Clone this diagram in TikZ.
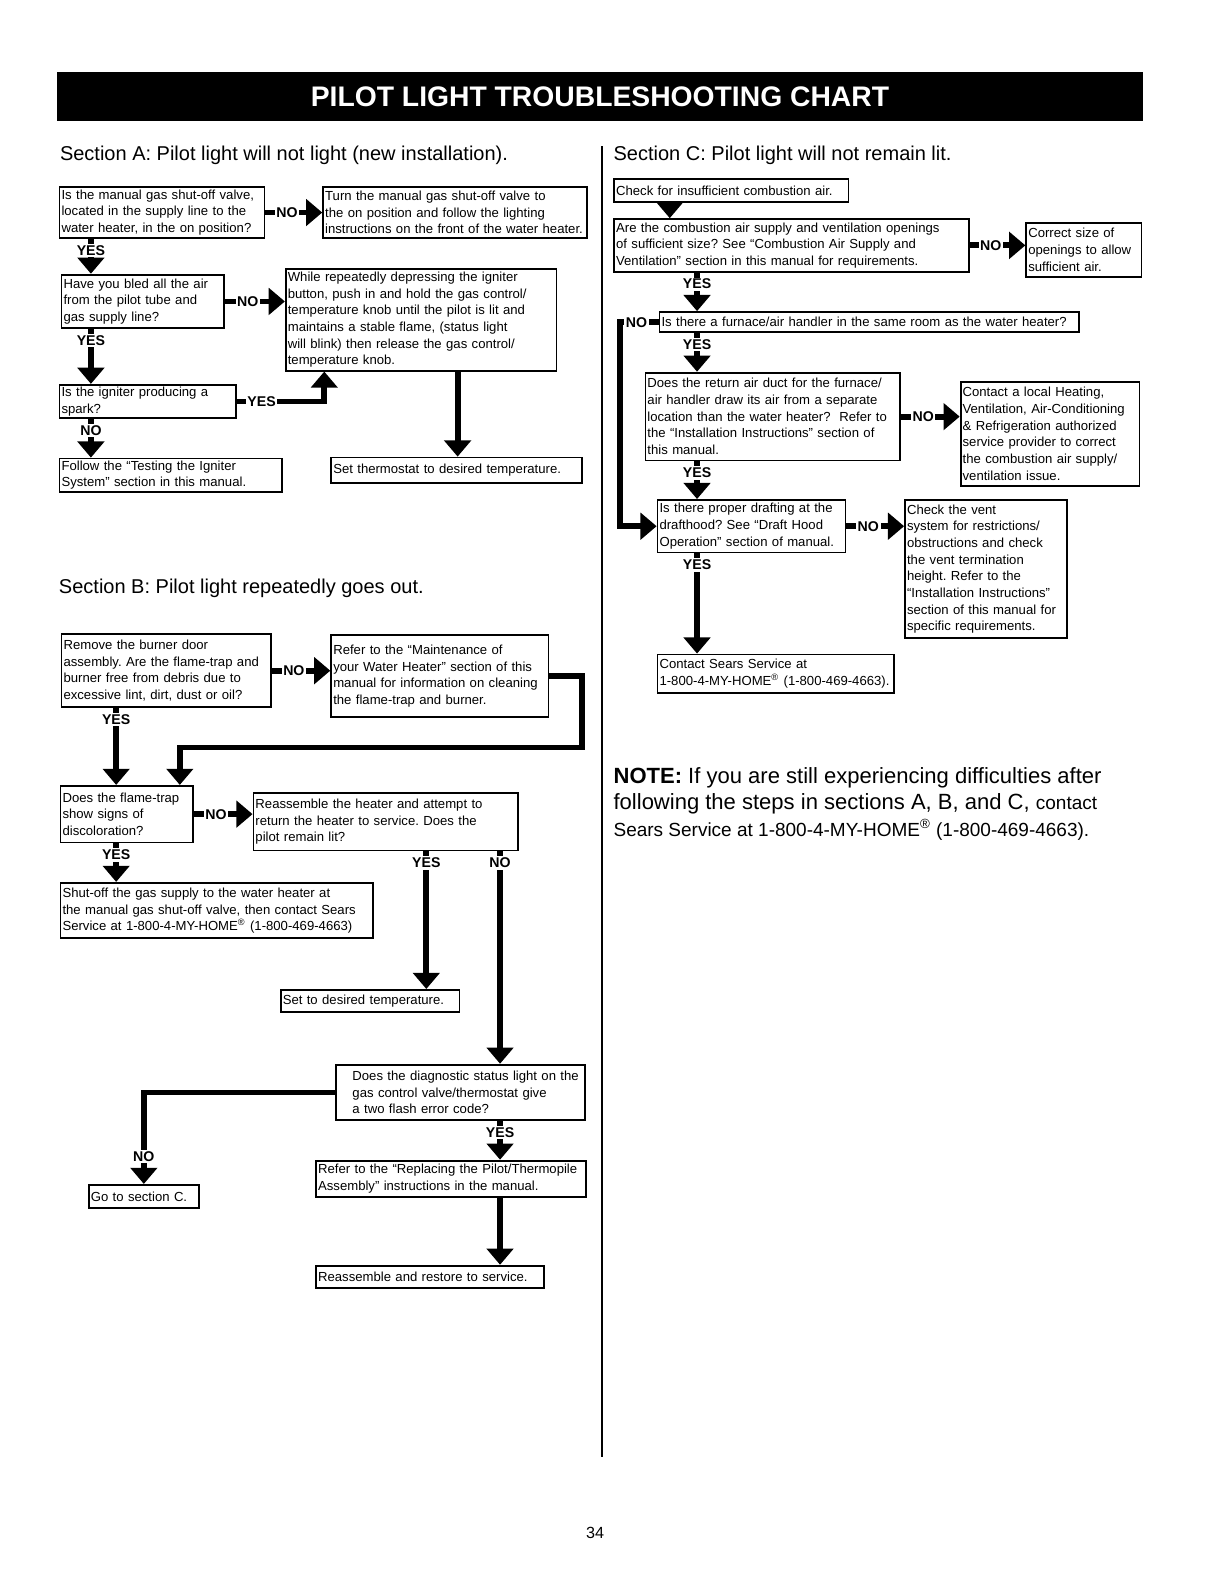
\documentclass[tikz,border=0pt]{standalone}
\usepackage{fontspec}
\setmainfont{Liberation Sans}
\usetikzlibrary{arrows.meta}

\newcommand{\boxfont}{\fontsize{6.5}{8.25}\selectfont}
\newcommand{\lblfont}{\fontsize{7}{8}\selectfont\bfseries}
\newcommand{\regd}{\textsuperscript{\textregistered}}

\begin{document}
\frenchspacing
\begin{tikzpicture}[x=0.5pt, y=-0.5pt,
  qbox/.style={rectangle, draw, line width=0.9pt, anchor=north west, align=left,
               inner xsep=1pt, inner ysep=1pt, font=\boxfont},
  arr/.style={line width=2.9pt, -{Triangle[width=13pt,length=8pt]}},
  lbl/.style={fill=white, inner sep=0.8pt, font=\lblfont},
  sec/.style={anchor=west, inner sep=0pt, font=\fontsize{9.9}{12}\selectfont}
]
\fill[white] (0,0) rectangle (1212,1568);
\useasboundingbox (0,0) rectangle (1212,1568);

%% Title bar
\node[fill=black, text=white, anchor=north west, minimum width=537.5pt, minimum height=24pt,
      font=\fontsize{14}{16}\selectfont\bfseries] (title) at (56,71) {PILOT LIGHT TROUBLESHOOTING CHART};
\draw[line width=0.6pt] (596,145) -- (596,1442);

%% Column positions of the down arrows
\coordinate (colA) at (90,0);
\coordinate (colAy) at (321,0);
\coordinate (colA2) at (453,0);
\coordinate (colB) at (115,0);
\coordinate (colB2) at (178,0);
\coordinate (colB3) at (422,0);
\coordinate (colB4) at (495,0);
\coordinate (bloop) at (576,740);
\coordinate (colC1) at (663,0);
\coordinate (colC) at (690,0);
\coordinate (cbus) at (614,0);

%% Section A
\node[sec] (secA) at (59,154) {Section A: Pilot light will not light (new installation).};
\node[qbox, text width=99.5pt, minimum height=25.5pt] (a1) at (58,184)
  {Is the manual gas shut-off valve,\\located in the supply line to the\\water heater, in the on position?};
\node[qbox, text width=128.5pt, minimum height=25.5pt] (a2) at (319,184)
  {Turn the manual gas shut-off valve to\\the on position and follow the lighting\\instructions on the front of the water heater.};
\node[qbox, text width=78.5pt, minimum height=26.5pt] (a3) at (60,271)
  {Have you bled all the air\\from the pilot tube and\\gas supply line?};
\node[qbox, text width=132pt, minimum height=50.5pt] (a4) at (282,265)
  {While repeatedly depressing the igniter\\button, push in and hold the gas control/\\temperature knob until the pilot is lit and\\maintains a stable flame, (status light\\will blink) then release the gas control/\\temperature knob.};
\node[qbox, text width=85.5pt, minimum height=16.5pt] (a5) at (58,380)
  {Is the igniter producing a\\spark?};
\node[qbox, text width=108pt, minimum height=16.5pt] (a6) at (58,453)
  {Follow the ``Testing the Igniter\\System'' section in this manual.};
\node[qbox, text width=122pt, minimum height=12.5pt] (a7) at (327,452)
  {Set thermostat to desired temperature.};

\draw[arr] (a1.east) -- node[lbl, pos=0.38]{NO} (a1.east -| a2.west);
\draw[arr] (a1.south -| colA) -- node[lbl, below=1pt, pos=0]{YES} (a3.north -| colA);
\draw[arr] (a3.east) -- node[lbl, pos=0.38]{NO} (a3.east -| a4.west);
\draw[arr] (a3.south -| colA) -- node[lbl, below=1pt, pos=0]{YES} (a5.north -| colA);
\draw[arr] (a5.east) -| node[lbl, pos=0.14]{YES} (a4.south -| colAy);
\draw[arr] (a5.south -| colA) -- node[lbl, below=1pt, pos=0]{NO} (a6.north -| colA);
\draw[arr] (a4.south -| colA2) -- (a7.north -| colA2);

%% Section B
\node[sec] (secB) at (58,582) {Section B: Pilot light repeatedly goes out.};
\node[qbox, text width=101.5pt, minimum height=36pt] (b1) at (60,627)
  {Remove the burner door\\assembly. Are the flame-trap and\\burner free from debris due to\\excessive lint, dirt, dust or oil?};
\node[qbox, text width=105.5pt, minimum height=40.5pt] (b2) at (327,628)
  {Refer to the ``Maintenance of\\your Water Heater'' section of this\\manual for information on cleaning\\the flame-trap and burner.};
\node[qbox, text width=63.5pt, minimum height=28pt] (b3) at (59,777)
  {Does the flame-trap\\show signs of\\discoloration?};
\node[qbox, text width=129pt, minimum height=28.5pt] (b4) at (250,784)
  {Reassemble the heater and attempt to\\return the heater to service. Does the\\pilot remain lit?};
\node[qbox, text width=152.5pt, minimum height=27.5pt] (b5) at (59,873)
  {Shut-off the gas supply to the water heater at\\the manual gas shut-off valve, then contact Sears\\Service at 1-800-4-MY-HOME\regd{} (1-800-469-4663)};
\node[qbox, text width=86.5pt, minimum height=11pt] (b6) at (277,979)
  {Set to desired temperature.};
\node[qbox, text width=121pt, minimum height=27.5pt] (b7) at (332,1053)
  {\hspace*{7pt}Does the diagnostic status light on the\\\hspace*{7pt}gas control valve/thermostat give\\\hspace*{7pt}a two flash error code?};
\node[qbox, text width=52.5pt, minimum height=11.5pt] (b8) at (87,1172)
  {Go to section C.};
\node[qbox, text width=131.5pt, minimum height=18pt] (b9) at (312,1148)
  {Refer to the ``Replacing the Pilot/Thermopile\\Assembly'' instructions in the manual.};
\node[qbox, text width=111pt, minimum height=11pt] (b10) at (312,1252)
  {Reassemble and restore to service.};

\draw[arr] (b1.east) -- node[lbl, pos=0.38]{NO} (b1.east -| b2.west);
\draw[arr] (b2.east) -| (bloop) -| (b3.north -| colB2);
\draw[arr] (b1.south -| colB) -- node[lbl, below=1pt, pos=0]{YES} (b3.north -| colB);
\draw[arr] (b3.east) -- node[lbl, pos=0.38]{NO} (b3.east -| b4.west);
\draw[arr] (b3.south -| colB) -- node[lbl, below=1pt, pos=0]{YES} (b5.north -| colB);
\draw[arr] (b4.south -| colB3) -- node[lbl, below=1pt, pos=0]{YES} (b6.north -| colB3);
\draw[arr] (b4.south -| colB4) -- node[lbl, below=1pt, pos=0]{NO} (b7.north -| colB4);
\draw[arr] (b7.west) -| node[lbl, pos=0.85]{NO} (b8.north);
\draw[arr] (b7.south -| colB4) -- node[lbl, below=1pt, pos=0]{YES} (b9.north -| colB4);
\draw[arr] (b9.south -| colB4) -- (b10.north -| colB4);

%% Section C
\node[sec] (secC) at (607,154) {Section C: Pilot light will not remain lit.};
\node[qbox, text width=114pt, minimum height=11.5pt] (c1) at (607,176)
  {Check for insufficient combustion air.};
\node[qbox, text width=173.5pt, minimum height=26pt] (c2) at (607,216)
  {Are the combustion air supply and ventilation openings\\of sufficient size? See ``Combustion Air Supply and\\Ventilation'' section in this manual for requirements.};
\node[qbox, text width=55pt, minimum height=26.5pt] (c3) at (1015,220)
  {Correct size of\\openings to allow\\sufficient air.};
\node[qbox, text width=205.5pt, minimum height=10pt] (c4) at (652,308)
  {Is there a furnace/air handler in the same room as the water heater?};
\node[qbox, text width=124pt, minimum height=43.5pt] (c5) at (638,368)
  {Does the return air duct for the furnace/\\air handler draw its air from a separate\\location than the water heater?\ \ Refer to\\the ``Installation Instructions'' section of\\this manual.};
\node[qbox, text width=86.5pt, minimum height=51.5pt] (c7) at (950,377)
  {Contact a local Heating,\\Ventilation, Air-Conditioning\\\& Refrigeration authorized\\service provider to correct\\the combustion air supply/\\ventilation issue.};
\node[qbox, text width=91pt, minimum height=26pt] (c6) at (650,494)
  {Is there proper drafting at the\\drafthood? See ``Draft Hood\\Operation'' section of manual.};
\node[qbox, text width=78pt, minimum height=68.5pt] (c8) at (895,494)
  {Check the vent\\system for restrictions/\\obstructions and check\\the vent termination\\height. Refer to the\\``Installation Instructions''\\section of this manual for\\specific requirements.};
\node[qbox, text width=115pt, minimum height=19pt] (c9) at (650,647)
  {Contact Sears Service at\\1-800-4-MY-HOME\regd{} (1-800-469-4663).};

\draw[arr] (c1.south -| colC1) -- (c2.north -| colC1);
\draw[arr] (c2.east) -- node[lbl, pos=0.38]{NO} (c2.east -| c3.west);
\draw[arr] (c2.south -| colC) -- node[lbl, below=1pt, pos=0]{YES} (c4.north -| colC);
\draw[arr] (c4.west) -| node[lbl, pos=0.29]{NO} (cbus |- c6.west) -- (c6.west);
\draw[arr] (c4.south -| colC) -- node[lbl, below=1pt, pos=0]{YES} (c5.north -| colC);
\draw[arr] (c5.east) -- node[lbl, pos=0.38]{NO} (c5.east -| c7.west);
\draw[arr] (c5.south -| colC) -- node[lbl, below=1pt, pos=0]{YES} (c6.north -| colC);
\draw[arr] (c6.east) -- node[lbl, pos=0.38]{NO} (c6.east -| c8.west);
\draw[arr] (c6.south -| colC) -- node[lbl, below=1pt, pos=0]{YES} (c9.north -| colC);

%% Note and page number
\node[anchor=north west, align=left, inner sep=0pt, font=\fontsize{10.9}{13.25}\selectfont] (note) at (607,759)
  {\textbf{NOTE:} If you are still experiencing difficulties after\\
   following the steps in sections A, B, and C, {\fontsize{9.4}{13.25}\selectfont contact}\\
   {\fontsize{9.4}{13.25}\selectfont Sears Service at 1-800-4-MY-HOME\regd{} (1-800-469-4663).}};
\node[font=\fontsize{8}{9}\selectfont] (pgnum) at (589,1517) {34};
\end{tikzpicture}
\end{document}
